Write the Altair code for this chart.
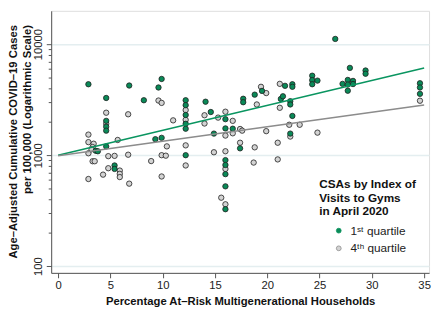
import altair as alt
import pandas as pd

# ---- data ----
groups = ["1ˢᵗ quartile", "4ᵗʰ quartile"]

green_x = [2.9, 4.6, 4.6, 4.6, 4.6, 4.6, 6.8, 8.2, 9.6, 9.9, 9.3, 9.9, 3.6, 3.8, 5.4, 5.4,
           12.2, 12.2, 12.2, 12.2, 12.2, 12.2, 14.1, 14.6, 14.9, 16.0, 16.0, 16.0, 16.0, 16.0,
           16.0, 16.0, 16.7, 17.4, 17.7, 17.7, 18.8, 19.5, 21.3, 21.5, 21.7, 22.2, 22.2, 22.4,
           22.4, 22.4, 22.2, 24.3, 24.3, 24.3, 24.8, 26.5, 27.9, 27.2, 27.7, 27.7, 27.7, 28.2,
           28.2, 29.4, 29.4, 34.6, 34.6, 34.6]
green_y = [4358, 3278, 2039, 1805, 1664, 1201, 4244, 3127, 4075, 4864, 1394, 1434, 1096, 1085, 808, 752,
           3127, 2825, 2304, 1918, 1733, 1000, 3033, 2449, 1565, 2111, 1743, 903, 816, 675,
           524, 326, 1733, 1153, 3225, 3002, 3512, 3795, 3211, 3393, 4218, 3064, 2865, 4358,
           4133, 2258, 1565, 5203, 4747, 4358, 4699, 11160, 6120, 4394, 4767, 4331, 3810, 4670,
           4375, 5795, 5420, 4448, 4075, 3570]

gray_x = [2.9, 2.9, 3.4, 3.3, 3.2, 2.9, 4.6, 4.6, 6.7, 5.7, 9.6, 9.9, 4.8, 5.4, 6.7, 3.3,
          3.5, 4.8, 5.9, 5.9, 5.9, 4.3, 2.9, 6.8, 8.9, 9.9, 10.3, 9.9, 10.4, 11.0, 12.2, 12.2,
          12.2, 12.2, 14.0, 14.0, 15.3, 16.0, 16.0, 16.7, 16.7, 17.4, 17.6, 17.4, 18.8, 19.0,
          19.4, 19.9, 19.9, 14.9, 16.0, 16.0, 15.6, 16.0, 18.7, 21.0, 21.0, 21.2, 21.2, 22.1,
          23.1, 22.2, 24.8, 34.6]
gray_y = [1533, 1311, 1269, 1184, 1130, 1041, 2414, 1918, 2337, 1371, 3108, 2960, 980, 986, 1010, 882,
          882, 763, 727, 679, 635, 668, 610, 554, 885, 1000, 990, 643, 1201, 2060, 2551, 2081,
          1226, 808, 2290, 1930, 2181, 2465, 1503, 2039, 1575, 1722, 1664, 1295, 1177, 2865,
          4133, 3628, 1647, 1063, 1085, 752, 414, 361, 858, 916, 1295, 4394, 2674, 1880,
          1880, 1472, 1597, 3095]

fit_x = [0, 35]
green_fit = [1000, 6100]
gray_fit = [990, 2830]

x_ticks = [0, 5, 10, 15, 20, 25, 30, 35]
y_major = [100, 1000, 10000]
y_minor = [200, 300, 400, 500, 600, 700, 800, 900,
           2000, 3000, 4000, 5000, 6000, 7000, 8000, 9000]

fill_colors = ["#0a8a58", "#d3d3d3"]
line_colors = ["#0a9560", "#8c8c8c"]

pts = pd.DataFrame({
    "x": gray_x + green_x,
    "y": gray_y + green_y,
    "g": [groups[1]] * len(gray_x) + [groups[0]] * len(green_x),
})
fits = pd.DataFrame({
    "x": fit_x + fit_x,
    "y": green_fit + gray_fit,
    "g": [groups[0]] * 2 + [groups[1]] * 2,
})

FONT = "Liberation Sans"
is_major = "datum.value == 100 || datum.value == 1000 || datum.value == 10000"

xscale = alt.Scale(domain=[-0.66, 35.47], nice=False, zero=False)
yscale = alt.Scale(type="log", domain=[87, 20000], nice=False)

x_enc = alt.X("x:Q", scale=xscale, axis=alt.Axis(
    values=x_ticks, title="Percentage At–Risk Multigenerational Households",
    titleFontSize=11.5, titleFontWeight="bold", titleColor="#111", titlePadding=5,
    labelFontSize=11.5, labelColor="#222", labelPadding=2, tickSize=5,
    tickColor="#555", domainColor="#555", grid=False, labelFont=FONT, titleFont=FONT))

y_enc = alt.Y("y:Q", scale=yscale, axis=alt.Axis(
    values=y_major + y_minor, format="d",
    labelExpr=f"({is_major}) ? datum.label : ''",
    labelOverlap=False,
    tickSize={"condition": {"test": is_major, "value": 5}, "value": 3},
    gridOpacity={"condition": {"test": is_major, "value": 1}, "value": 0},
    grid=True, gridColor="#e4eef0", gridWidth=1.5,
    labelAngle=270, labelAlign="center", labelBaseline="bottom", labelPadding=3,
    labelFontSize=11.5, labelColor="#222", tickColor="#555", domainColor="#555",
    title=["Age–Adjusted Cumulative COVID–19 Cases", "per 100,000 (Logarithmic Scale)"],
    titleAngle=270, titleAlign="right", titleBaseline="top", titleX=-44, titleY=14,
    titleLineHeight=14, titleFontSize=11.5, titleFontWeight="bold", titleColor="#111",
    labelFont=FONT, titleFont=FONT))

points = alt.Chart(pts).mark_circle(size=30, opacity=1, stroke="#1e1e1e", strokeWidth=0.8).encode(
    x=x_enc, y=y_enc,
    fill=alt.Fill("g:N", scale=alt.Scale(domain=groups, range=fill_colors),
                  legend=alt.Legend(
                      title=["CSAs by Index of", "Visits to Gyms", "in April 2020"],
                      orient="none", legendX=273, legendY=172, padding=0,
                      titleFontSize=12, titleFontWeight="bold", titleLineHeight=13.5,
                      titleColor="#111", titleFont=FONT, titlePadding=7,
                      labelFontSize=12, labelColor="#222", labelFont=FONT, labelOffset=6,
                      symbolType="circle", symbolSize=24, symbolStrokeColor="#1e1e1e",
                      symbolStrokeWidth=0.8, symbolOffset=14, rowPadding=6)),
    order=alt.Order("g:N", sort="descending"),
)

lines = alt.Chart(fits).mark_line(strokeWidth=1.5).encode(
    x="x:Q", y="y:Q",
    color=alt.Color("g:N", scale=alt.Scale(domain=groups, range=line_colors), legend=None),
)

chart = alt.layer(points, lines).properties(
    width=385, height=267,
    autosize=alt.AutoSizeParams(type="none"),
    padding={"left": 44, "top": 0, "right": 3, "bottom": 37},
).configure_view(stroke=None).configure(font=FONT)

chart.save("out.html", embed_options={"renderer": "svg", "actions": False})
